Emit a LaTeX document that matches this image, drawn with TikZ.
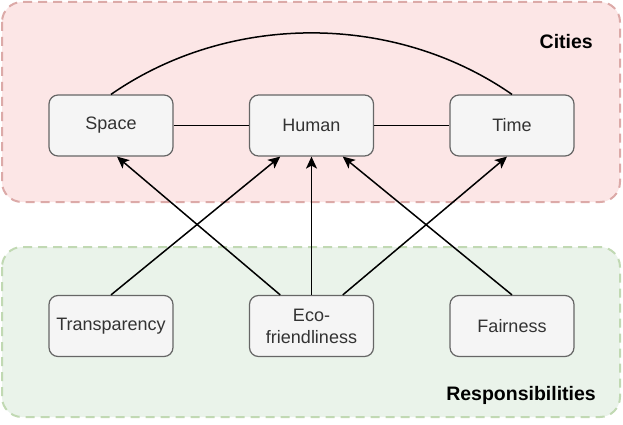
\documentclass[tikz,border=0pt]{standalone}
\usepackage{fontspec}
\setmainfont{Liberation Sans}
\usepackage{tikz}
\usetikzlibrary{calc,arrows.meta}

\definecolor{boxfill}{HTML}{F5F5F5}
\definecolor{boxline}{HTML}{666666}
\definecolor{boxtext}{HTML}{333333}
\definecolor{cityfill}{HTML}{FCE6E6}
\definecolor{cityline}{HTML}{DCAAA8}
\definecolor{respfill}{HTML}{EAF3EA}
\definecolor{respline}{HTML}{C1D9B3}

\tikzset{
  box/.style={draw=boxline,fill=boxfill,text=boxtext,line width=1.2pt,rounded corners=9pt,
    minimum width=124pt,minimum height=61pt,inner sep=0pt,align=center,
    font=\fontsize{18}{22}\selectfont},
  group/.style={line width=2pt,rounded corners=20pt,dash pattern=on 9pt off 6pt},
  title/.style={anchor=east,inner sep=0pt,font=\fontsize{19.5}{22}\selectfont\bfseries},
  link/.style={line width=1.5pt},
  arr/.style={line width=1.5pt,-{Stealth[length=12pt,width=11pt,inset=3pt]}}
}

\begin{document}
\begin{tikzpicture}[x=1pt,y=-1pt]
\useasboundingbox (0,0) rectangle (623,425);
\pgfmathsetmacro\xa{111}
\pgfmathsetmacro\xb{311.5}
\pgfmathsetmacro\xc{512}
\pgfmathsetmacro\ytop{125.5}
\pgfmathsetmacro\ybot{326}
% containers
\draw[group,draw=cityline,fill=cityfill] (2,2) rectangle (620,202);
\draw[group,draw=respline,fill=respfill] (2,247) rectangle (620,417);
\node[title] (cities) at (593,42) {Cities};
\node[title] (resp) at (596,395) {Responsibilities};
% boxes
\node[box] (space) at (\xa,\ytop) {Space};
\node[box] (human) at (\xb,\ytop) {Human};
\node[box] (time) at (\xc,\ytop) {Time};
\node[box] (transp) at (\xa,\ybot) {Transparency};
\node[box] (eco) at (\xb,\ybot) {Eco-\\friendliness};
\node[box] (fair) at (\xc,\ybot) {Fairness};
\coordinate (H1) at ($(human.south west)!0.25!(human.south east)$);
\coordinate (H3) at ($(human.south west)!0.75!(human.south east)$);
\coordinate (E1) at ($(eco.north west)!0.25!(eco.north east)$);
\coordinate (E3) at ($(eco.north west)!0.75!(eco.north east)$);
\draw[link] (space) -- (human) (human) -- (time);
\draw[link] (space.north) .. controls (229,12.4) and (394,12.4) .. (time.north);
\draw[arr] (transp.north) -- (H1);
\draw[arr] (E1) -- ($(space.south)+(6,0)$);
\draw[arr] (eco.north) -- (human.south);
\draw[arr] (E3) -- ($(time.south)+(-5,0)$);
\draw[arr] (fair.north) -- (H3);
\end{tikzpicture}
\end{document}
